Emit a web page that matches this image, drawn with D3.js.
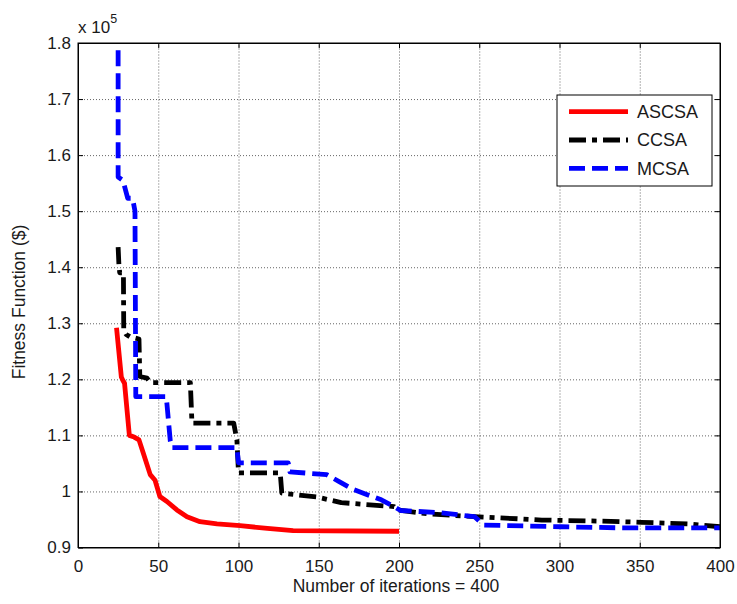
<!DOCTYPE html>
<html>
<head>
<meta charset="utf-8">
<script src="https://cdn.jsdelivr.net/npm/d3@7"></script>
<style>
  body { margin: 0; background: #fff; }
  svg { display: block; font-family: "Liberation Sans", Arial, sans-serif; }
  .grid line { stroke: #666; stroke-width: 1; stroke-dasharray: 1,2; }
  .grid path { display: none; }
  .axis path, .axis line { stroke: #000; stroke-width: 1; }
  .axis text { font-size: 17px; fill: #1a1a1a; }
</style>
</head>
<body>
<div id="chart"></div>
<script>
// values are in units of 1e5 $
const ascsaIter = [24, 27, 28, 29, 32, 35, 38, 40.6, 45, 48, 51, 55.4, 61.6, 67.9, 76, 86.6, 101, 118, 134, 200];
const ascsaFit  = [1.292, 1.204, 1.198, 1.193, 1.100, 1.097, 1.092, 1.069, 1.030, 1.020, 0.991, 0.982, 0.967, 0.955, 0.946, 0.942, 0.939, 0.934, 0.930, 0.929];

const ccsaIter = [25, 25.5, 26, 28.3, 28.5, 30, 32.3, 38, 38.5, 43, 45, 70, 71, 97, 99, 100, 126, 127, 149, 164, 197, 199, 218, 247, 276, 289, 326, 351, 380, 400];
const ccsaFit  = [1.436, 1.404, 1.390, 1.390, 1.288, 1.280, 1.276, 1.272, 1.205, 1.202, 1.194, 1.194, 1.122, 1.122, 1.092, 1.033, 1.033, 0.997, 0.990, 0.980, 0.973, 0.967, 0.960, 0.955, 0.951, 0.949, 0.947, 0.945, 0.942, 0.937];

const mcsaIter = [25, 25, 28, 31, 34, 35.5, 36, 55, 57.5, 58.5, 99, 100, 131, 132, 155, 163, 172, 189, 197, 201, 226, 247, 253, 301, 340, 400];
const mcsaFit  = [1.787, 1.561, 1.555, 1.523, 1.523, 1.500, 1.169, 1.169, 1.090, 1.078, 1.078, 1.051, 1.051, 1.035, 1.030, 1.017, 1.003, 0.985, 0.973, 0.966, 0.962, 0.955, 0.940, 0.937, 0.935, 0.935];

const seriesNames = ["ASCSA", "CCSA", "MCSA"];
const xTicks = [0, 50, 100, 150, 200, 250, 300, 350, 400];
const yTicks = [0.9, 1.0, 1.1, 1.2, 1.3, 1.4, 1.5, 1.6, 1.7, 1.8];
const yTickLabels = ["0.9", "1", "1.1", "1.2", "1.3", "1.4", "1.5", "1.6", "1.7", "1.8"];

const W = 737, H = 604;
const plot = { left: 78, right: 720, top: 43, bottom: 547.5 };

const series = [
  { name: seriesNames[0], iter: ascsaIter, fit: ascsaFit, color: "#ff0000", dash: null },
  { name: seriesNames[1], iter: ccsaIter, fit: ccsaFit, color: "#000000", dash: "17,6,5,6" },
  { name: seriesNames[2], iter: mcsaIter, fit: mcsaFit, color: "#0000ff", dash: "16,7" }
];

const svg = d3.select("#chart").append("svg")
  .attr("width", W).attr("height", H);

const x = d3.scaleLinear().domain([0, 400]).range([plot.left, plot.right]);
const y = d3.scaleLinear().domain([0.9, 1.8]).range([plot.bottom, plot.top]);

// grid
svg.append("g").attr("class", "grid")
  .attr("transform", `translate(0,${plot.bottom})`)
  .call(d3.axisBottom(x).tickValues(xTicks.slice(1, -1)).tickSize(-(plot.bottom - plot.top)).tickFormat(""));
svg.append("g").attr("class", "grid")
  .attr("transform", `translate(${plot.left},0)`)
  .call(d3.axisLeft(y).tickValues(yTicks.slice(1, -1)).tickSize(-(plot.right - plot.left)).tickFormat(""));

// lines
const line = d3.line().x(d => x(d[0])).y(d => y(d[1]));
series.forEach(s => {
  const pts = s.iter.map((v, i) => [v, s.fit[i]]);
  svg.append("path")
    .datum(pts)
    .attr("d", line)
    .attr("fill", "none")
    .attr("stroke", s.color)
    .attr("stroke-width", 4.8)
    .attr("stroke-dasharray", s.dash)
    .attr("stroke-linejoin", "round");
});

// axes, ticks pointing inward
svg.append("g").attr("class", "axis")
  .attr("transform", `translate(0,${plot.bottom})`)
  .call(d3.axisBottom(x).tickValues(xTicks).tickSizeInner(-5).tickSizeOuter(0).tickPadding(12.5));
svg.append("g").attr("class", "axis")
  .attr("transform", `translate(0,${plot.top})`)
  .call(d3.axisTop(x).tickValues(xTicks).tickSizeInner(-5).tickSizeOuter(0).tickFormat(""));
svg.append("g").attr("class", "axis")
  .attr("transform", `translate(${plot.left},0)`)
  .call(d3.axisLeft(y).tickValues(yTicks).tickSizeInner(-5).tickSizeOuter(0).tickPadding(7)
    .tickFormat((d, i) => yTickLabels[i]));
svg.append("g").attr("class", "axis")
  .attr("transform", `translate(${plot.right},0)`)
  .call(d3.axisRight(y).tickValues(yTicks).tickSizeInner(-5).tickSizeOuter(0).tickFormat(""));

svg.append("rect")
  .attr("x", plot.left).attr("y", plot.top)
  .attr("width", plot.right - plot.left).attr("height", plot.bottom - plot.top)
  .attr("fill", "none").attr("stroke", "#000");

// exponent
const ex = svg.append("text").attr("x", plot.left).attr("y", 33)
  .attr("font-size", 17).attr("fill", "#1a1a1a");
ex.append("tspan").text("x 10");
ex.append("tspan").attr("dy", -10).attr("font-size", 12.5).text("5");

// axis labels
svg.append("text")
  .attr("x", (plot.left + plot.right) / 2 - 3).attr("y", 592)
  .attr("text-anchor", "middle").attr("font-size", 17.5).attr("fill", "#1a1a1a")
  .text("Number of iterations = 400");
svg.append("text")
  .attr("transform", `translate(25,302) rotate(-90)`)
  .attr("text-anchor", "middle").attr("font-size", 17.5).attr("fill", "#1a1a1a")
  .text("Fitness Function ($)");

// legend
const leg = svg.append("g").attr("transform", "translate(557,95)");
leg.append("rect").attr("width", 155).attr("height", 91)
  .attr("fill", "#fff").attr("stroke", "#000");
series.forEach((s, i) => {
  const ly = 16.7 + i * 28.3;
  leg.append("line")
    .attr("x1", 12).attr("x2", 71).attr("y1", ly).attr("y2", ly)
    .attr("stroke", s.color).attr("stroke-width", 4.8)
    .attr("stroke-dasharray", s.dash);
  leg.append("text")
    .attr("x", 80).attr("y", ly).attr("dy", "0.35em")
    .attr("font-size", 18).attr("fill", "#1a1a1a")
    .text(s.name);
});
</script>
</body>
</html>
